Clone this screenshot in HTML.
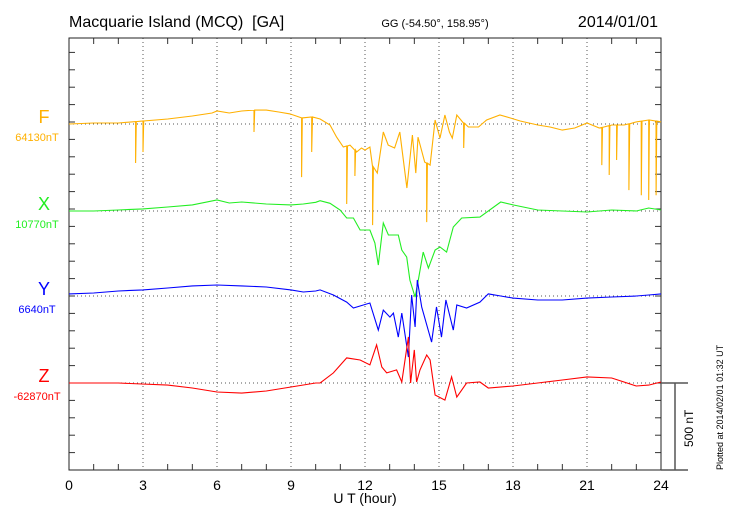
<!DOCTYPE html>
<html><head><meta charset="utf-8"><style>
body{margin:0;background:#fff;}
svg{display:block;font-family:"Liberation Sans",sans-serif;}
</style></head><body>
<svg id="chart" width="730" height="520" viewBox="0 0 730 520">
<text x="69" y="27" font-size="16" xml:space="preserve" style="white-space:pre">Macquarie Island (MCQ)  [GA]</text>
<text x="435" y="27" font-size="11" text-anchor="middle">GG (-54.50°, 158.95°)</text>
<text x="658" y="27" font-size="16" text-anchor="end">2014/01/01</text>
<text x="365" y="503" font-size="14" text-anchor="middle">U T (hour)</text>
<text transform="translate(723,470) rotate(-90)" font-size="9">Plotted at 2014/02/01 01:32 UT</text>
<text transform="translate(693,447) rotate(-90)" font-size="12">500 nT</text>
<g id="axes"></g><g id="series"></g>
</svg>
<script>
const hourTicks=[0,3,6,9,12,15,18,21,24];
const channels=["F","X","Y","Z"];
const channelBaselines=["64130nT","10770nT","6640nT","-62870nT"];
const fTimes=[0,1,2,3,4,5,5.8,6,6.5,7,7.5,8,8.5,8.96,9.43,9.84,10.18,10.58,10.85,11.12,11.39,11.66,11.86,12.0,12.2,12.31,12.5,12.74,12.94,13.2,13.41,13.7,13.92,14.06,14.15,14.42,14.64,14.84,15.04,15.24,15.42,15.54,15.72,15.99,16.19,16.6,16.93,17.47,17.88,18.29,19,19.5,20,20.5,21,21.5,22,22.5,23,23.5,24];
const fValues=[0,6,6,17,29,46,63,75,63,75,80,80,69,58,35,40,29,-6,-75,-132,-121,-161,-138,-150,-132,-247,-282,-46,-121,-138,-46,-368,-63,-282,-75,-219,-236,23,-81,52,-46,-81,52,6,-17,-17,23,52,35,17,-6,-17,-35,-23,6,-23,-6,-6,12,23,12];
const fSpikeTimes=[2.7,3.0,7.5,9.43,9.84,11.26,11.59,12.31,14.5,16.0,21.6,21.9,22.2,22.7,23.2,23.5,23.8];
const fSpikeValues=[-224,-161,-46,-305,-161,-460,-299,-581,-564,-138,-236,-293,-207,-380,-409,-437,-409];
const xTimes=[0,1,2,3,4,5,6,6.5,7,8,9,9.5,10,10.18,10.58,10.99,11.26,11.53,11.8,12.2,12.4,12.54,12.74,12.95,13.35,13.49,13.69,13.82,14.03,14.16,14.36,14.57,14.84,15.04,15.31,15.58,15.92,16.66,17.5,18,19,20,21,22,23,23.5,24];
const xValues=[0,0,6,12,23,35,63,46,52,40,35,40,50,59,44,6,-40,-40,-109,-109,-184,-311,-69,-138,-138,-224,-265,-397,-495,-397,-236,-328,-224,-207,-236,-92,-40,-35,52,35,6,0,-6,6,0,17,6];
const yTimes=[0,1,2,3,4,5,6,7,8,9,9.5,10,10.18,10.72,11.26,11.53,12.2,12.54,12.74,13.01,13.15,13.35,13.49,13.76,13.89,14.03,14.12,14.3,14.7,14.9,15.1,15.28,15.58,15.72,16.12,16.66,17,17.5,18,19,20,21,22,23,23.5,24];
const yValues=[12,17,29,35,46,58,63,58,52,35,23,29,35,6,-35,-69,-40,-196,-81,-121,-98,-236,-98,-351,6,-178,92,-63,-265,-63,-236,-23,-196,-52,-69,-35,12,0,-12,-23,-23,-12,-6,0,6,12];
const zTimes=[0,2,4,5,6,7,8,9,10,10.18,10.72,11.26,11.8,12.2,12.47,12.68,12.88,13.28,13.49,13.76,13.85,14.0,14.09,14.23,14.5,14.64,14.84,15.24,15.51,15.72,16.12,16.66,17,18,19,20,21,22,23,23.5,24];
const zValues=[0,0,-12,-29,-52,-58,-46,-23,0,0,58,144,132,104,219,92,58,75,6,265,0,190,6,75,161,132,-69,-98,35,-81,0,6,-29,-17,0,17,35,29,-17,-12,6];

const L=69,R=661,T=38,B=470;
const xs=h=>L+(R-L)*h/24;
const pxPerNT=87/500;
const bases=[124,211,296,383];
const colors=["#ffb000","#22ee22","#0000ff","#ff0000"];
const NS="http://www.w3.org/2000/svg";
const ax=document.getElementById("axes"),sr=document.getElementById("series");
function mk(tag,attrs,parent){const e=document.createElementNS(NS,tag);for(const k in attrs)e.setAttribute(k,attrs[k]);parent.appendChild(e);return e;}
hourTicks.forEach(h=>{
  if(h>0&&h<24){const g=mk("line",{x1:xs(h),x2:xs(h),y1:T,y2:B,stroke:"#555","stroke-dasharray":"1,3"},ax);
  
  }
  const t=mk("text",{x:xs(h),y:490,"font-size":14,"text-anchor":"middle"},ax);t.textContent=h;
  
  
});
bases.forEach(b=>{const g=mk("line",{x1:L,x2:R,y1:b,y2:b,stroke:"#555","stroke-dasharray":"1,3"},ax);
  
  });
for(let h=1;h<24;h++){
  if(h%3!==0){mk("line",{x1:xs(h),x2:xs(h),y1:T,y2:T+6,stroke:"#333"},ax);mk("line",{x1:xs(h),x2:xs(h),y1:B,y2:B-6,stroke:"#333"},ax);}
}
for(let y=B;y>T;y-=17.4){mk("line",{x1:L,x2:L+6,y1:y,y2:y,stroke:"#333"},ax);mk("line",{x1:R,x2:R-6,y1:y,y2:y,stroke:"#333"},ax);}
const frame=mk("rect",{x:L,y:T,width:R-L,height:B-T,fill:"none",stroke:"#222","stroke-width":1},ax);


const sb=mk("path",{d:`M${R} 383H688M675 383V${B}M${R} ${B}H688`,fill:"none",stroke:"#555","stroke-width":1.5},ax);


channels.forEach((c,i)=>{
  const t=mk("text",{x:44,y:bases[i]-1,"font-size":18,fill:colors[i],"text-anchor":"middle"},ax);t.textContent=c;
  
  
  const v=mk("text",{x:37,y:bases[i]+17,"font-size":11,fill:colors[i],"text-anchor":"middle"},ax);v.textContent=channelBaselines[i];
  
  
});
function interp(ts,vs,t){for(let i=0;i<ts.length-1;i++){if(t>=ts[i]&&t<=ts[i+1]){const f=(t-ts[i])/(ts[i+1]-ts[i]);return vs[i]+f*(vs[i+1]-vs[i]);}}return vs[vs.length-1];}
function series(ts,vs,spT,spV,idx){
  let pts=ts.map((t,i)=>[t,vs[i]]);
  spT.forEach((t,i)=>{const b=interp(ts,vs,t);pts.push([t-0.001,b],[t,spV[i]],[t+0.03,b]);});
  pts.sort((a,b)=>a[0]-b[0]);
  const d=pts.map((p,i)=>(i?"L":"M")+xs(p[0]).toFixed(1)+" "+(bases[idx]-p[1]*pxPerNT).toFixed(1)).join("");
  const p=mk("path",{d,fill:"none",stroke:colors[idx],"stroke-width":1.1},sr);
  
  
}
series(fTimes,fValues,fSpikeTimes,fSpikeValues,0);
series(xTimes,xValues,[],[],1);
series(yTimes,yValues,[],[],2);
series(zTimes,zValues,[],[],3);
</script>
</body></html>
